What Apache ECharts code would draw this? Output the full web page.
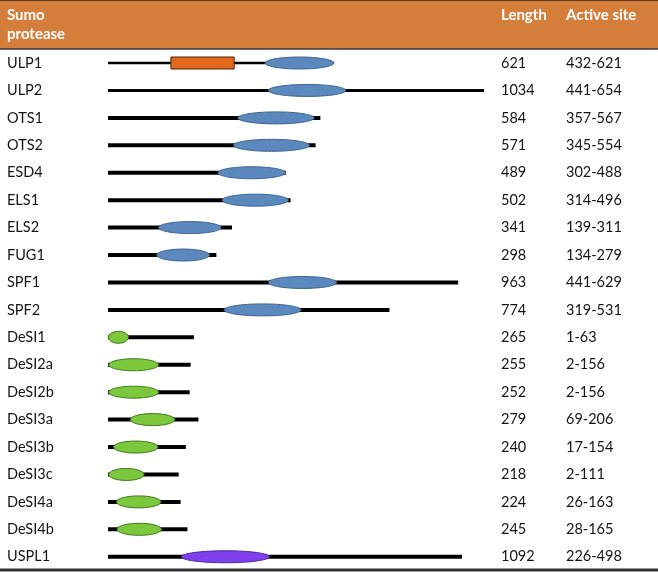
<!DOCTYPE html>
<html>
<head>
<meta charset="utf-8">
<script src="https://cdn.jsdelivr.net/npm/echarts@6/dist/echarts.min.js"></script>
<style>html,body{margin:0;padding:0;background:#fff}#c{width:658px;height:572px}</style>
</head>
<body>
<div id="c"></div>
<script>
// ---- data ----
const senpNames = ['ULP1','ULP2','OTS1','OTS2','ESD4','ELS1','ELS2','FUG1','SPF1','SPF2'];
const senpLength = [621,1034,584,571,489,502,341,298,963,774];
const senpSiteStart = [432,441,357,345,302,314,139,134,441,319];
const senpSiteEnd = [621,654,567,554,488,496,311,279,629,531];

const otherNames = ['DeSI1','DeSI2a','DeSI2b','DeSI3a','DeSI3b','DeSI3c','DeSI4a','DeSI4b','USPL1'];
const otherLength = [265,255,252,279,240,218,224,245,1092];
const otherSiteStart = [1,2,2,69,17,2,26,28,226];
const otherSiteEnd = [63,156,156,206,154,111,163,165,498];
const otherFamily = ['DeSI','DeSI','DeSI','DeSI','DeSI','DeSI','DeSI','DeSI','USPL'];

// extra domain drawn on ULP1 (residues)
const ulp1Domain = [173, 347];

const headerLabels = ['Sumo', 'protease', 'Length', 'Active site'];

// ---- styles ----
const FONT = 'Lato';
const TXT = '#141414';
const familyStyle = {
  SENP: {fill: '#5b88bd', stroke: '#3d6592'},
  DeSI: {fill: '#7cc83c', stroke: '#3f7a1c'},
  USPL: {fill: '#8040ee', stroke: '#4e25a0'}
};
const ROW_H = 27.43;
const TOP0 = 49.3;

function makeRender(family, firstRow) {
  return function (params, api) {
    const row = api.value(0);
    const p0 = api.coord([0, row]);
    const pL = api.coord([api.value(1), row]);
    const s0 = api.coord([api.value(2), row])[0];
    const s1 = api.coord([api.value(3), row])[0];
    const st = familyStyle[family];
    const y = p0[1];
    const gIdx = firstRow + row;
    const lw = gIdx === 0 ? 2.5 : (gIdx === 1 ? 3 : 4);
    const children = [{
      type: 'line',
      shape: {x1: p0[0], y1: y, x2: pL[0], y2: y},
      style: {stroke: '#000', lineWidth: lw}
    }];
    if (gIdx === 0) {
      const b0 = api.coord([ulp1Domain[0], row])[0];
      const b1 = api.coord([ulp1Domain[1], row])[0];
      children.push({
        type: 'rect',
        shape: {x: b0, y: y - 6, width: b1 - b0, height: 12},
        style: {fill: '#e2691c', stroke: '#4a2a10', lineWidth: 1}
      });
    }
    children.push({
      type: 'ellipse',
      shape: {cx: (s0 + s1) / 2, cy: y, rx: (s1 - s0) / 2, ry: 6},
      style: {fill: st.fill, stroke: st.stroke, lineWidth: 1}
    });
    return {type: 'group', children: children};
  };
}

const chart = echarts.init(document.getElementById('c'), null, {renderer: 'canvas'});

const nameAxis = (data, gi) => ({
  type: 'category', gridIndex: gi, data: data, inverse: true,
  axisLine: {show: false}, axisTick: {show: false}, splitLine: {show: false},
  axisLabel: {align: 'left', margin: 101, fontFamily: FONT, fontSize: 14.5, color: TXT}
});
const colAxis = (data, gi, offset) => ({
  type: 'category', gridIndex: gi, data: data.map(String), inverse: true, position: 'right', offset: offset,
  axisLine: {show: false}, axisTick: {show: false}, splitLine: {show: false},
  axisLabel: {align: 'left', margin: 0, fontFamily: FONT, fontSize: 14.5, color: TXT}
});

const senpSite = senpSiteStart.map((s, i) => s + '-' + senpSiteEnd[i]);
const otherSite = otherSiteStart.map((s, i) => s + '-' + otherSiteEnd[i]);

const g0H = ROW_H * senpNames.length;
const g1H = ROW_H * otherNames.length;

const HFONT = 'bold 15px Lato';

chart.setOption({
  animation: false,
  backgroundColor: '#fff',
  grid: [
    {left: 108, top: TOP0, width: 400, height: g0H},
    {left: 108, top: TOP0 + g0H, width: 402, height: g1H}
  ],
  xAxis: [
    {type: 'value', gridIndex: 0, min: 0, max: 1100, show: false},
    {type: 'value', gridIndex: 1, min: 0, max: 1240, show: false}
  ],
  yAxis: [
    nameAxis(senpNames, 0),
    colAxis(senpLength, 0, -7),
    colAxis(senpSite, 0, 58),
    nameAxis(otherNames, 1),
    colAxis(otherLength, 1, -9),
    colAxis(otherSite, 1, 56)
  ],
  series: [
    {
      type: 'custom', xAxisIndex: 0, yAxisIndex: 0,
      renderItem: makeRender('SENP', 0),
      data: senpNames.map((n, i) => [i, senpLength[i], senpSiteStart[i], senpSiteEnd[i]])
    },
    {
      type: 'custom', xAxisIndex: 1, yAxisIndex: 3,
      renderItem: (params, api) => makeRender(otherFamily[api.value(0)], senpNames.length)(params, api),
      data: otherNames.map((n, i) => [i, otherLength[i], otherSiteStart[i], otherSiteEnd[i]])
    }
  ],
  graphic: [
    {type: 'rect', shape: {x: 0, y: 0, width: 658, height: 49}, style: {fill: '#d57d3b'}, z: -1},
    {type: 'line', shape: {x1: 0, y1: 0.5, x2: 658, y2: 0.5}, style: {stroke: '#5a3a22', lineWidth: 1}},
    {type: 'line', shape: {x1: 0, y1: 49, x2: 658, y2: 49}, style: {stroke: '#3a3a3a', lineWidth: 1.5}},
    {type: 'line', shape: {x1: 0, y1: 570, x2: 658, y2: 570}, style: {stroke: '#333', lineWidth: 3}},
    {type: 'text', style: {x: 7, y: 15.5, text: headerLabels[0], fill: '#fff', font: HFONT, verticalAlign: 'middle'}},
    {type: 'text', style: {x: 7, y: 34, text: headerLabels[1], fill: '#fff', font: HFONT, verticalAlign: 'middle'}},
    {type: 'text', style: {x: 501, y: 15.5, text: headerLabels[2], fill: '#fff', font: HFONT, verticalAlign: 'middle'}},
    {type: 'text', style: {x: 566, y: 15.5, text: headerLabels[3], fill: '#fff', font: HFONT, verticalAlign: 'middle'}}
  ]
});
</script>
</body>
</html>
